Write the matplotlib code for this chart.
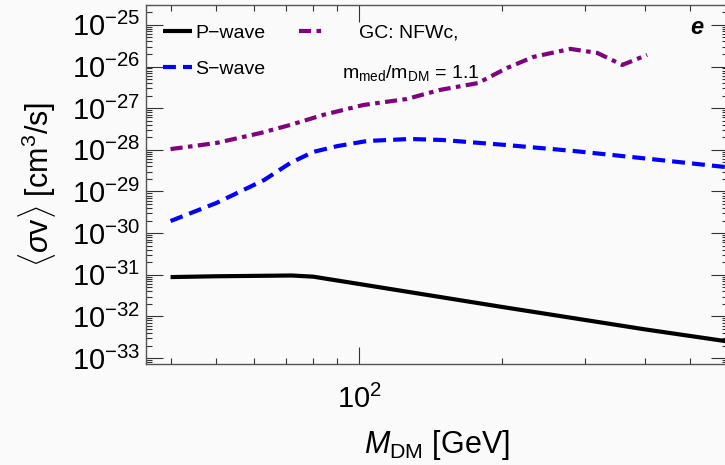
import numpy as np
import matplotlib
matplotlib.use("Agg")
import matplotlib.pyplot as plt
from matplotlib.ticker import LogLocator, FixedLocator, NullFormatter

plt.rcParams['font.family'] = ['Liberation Sans', 'DejaVu Sans']
plt.rcParams['mathtext.fontset'] = 'custom'
plt.rcParams['mathtext.rm'] = 'Liberation Sans'
plt.rcParams['mathtext.it'] = 'Liberation Sans:italic'
plt.rcParams['mathtext.bf'] = 'Liberation Sans:bold'

# dark matter mass [GeV]
m_p = [40, 50, 60, 72, 80, 100, 200, 300, 400, 600]
sv_p = [8.8e-32, 9.2e-32, 9.4e-32, 9.6e-32, 9.0e-32, 6.0e-32, 1.69e-32, 8.2e-33, 4.9e-33, 2.5e-33]

m_s = [40, 50, 63, 71.5, 80, 90, 104, 128, 150, 205, 283, 391, 564, 600]
sv_s = [1.95e-30, 5.3e-30, 1.88e-29, 4.8e-29, 8.9e-29, 1.23e-28, 1.63e-28, 1.82e-28,
        1.72e-28, 1.30e-28, 9.4e-29, 6.4e-29, 4.1e-29, 3.8e-29]

m_gc = [40, 50, 62, 71.5, 84, 102, 126, 148, 178, 205, 233, 279, 318, 359, 405]
sv_gc = [1.04e-28, 1.46e-28, 2.54e-28, 3.95e-28, 6.9e-28, 1.19e-27, 1.66e-27, 2.74e-27,
         4.0e-27, 9.2e-27, 1.70e-26, 2.65e-26, 2.12e-26, 1.09e-26, 1.9e-26]

y_major = [1e-33, 1e-32, 1e-31, 1e-30, 1e-29, 1e-28, 1e-27, 1e-26, 1e-25]
x_major = [100]

bg = '#fafafa'
fig = plt.figure(figsize=(7.25, 4.65), dpi=100, facecolor=bg)
ax = fig.add_axes([146/725, 1 - 364/465, 582/725, 359/465], facecolor=bg)

p_line, = ax.plot(m_p, sv_p, color='black', lw=3, solid_capstyle='butt')
s_line, = ax.plot(m_s, sv_s, color='#0000ff', lw=3, dashes=(3.1, 1.7))
gc_line, = ax.plot(m_gc, sv_gc, color='#800080', lw=3, dashes=(2.9, 1.3, 1.1, 1.3))

ax.set_xscale('log')
ax.set_yscale('log')
ax.set_xlim(35.5, 600)
ax.set_ylim(7.2e-34, 3.0e-25)

ax.yaxis.set_major_locator(FixedLocator(y_major))
ax.xaxis.set_major_locator(FixedLocator(x_major))
ax.yaxis.set_minor_locator(LogLocator(base=10, subs=np.arange(2, 10), numticks=100))
ax.yaxis.set_minor_formatter(NullFormatter())
ax.xaxis.set_minor_formatter(NullFormatter())

for s in ax.spines.values():
    s.set_color('#555555')
    s.set_linewidth(1)
ax.tick_params(which='both', direction='in', top=True, right=True, color='#333333', width=0.8)
ax.tick_params(which='major', length=12.5, labelsize=21)
ax.tick_params(axis='y', which='major', pad=4)
ax.tick_params(axis='x', which='major', pad=15)
ax.tick_params(which='minor', length=4)

ax.set_xlabel(r'$M_{\mathrm{DM}}$ [GeV]', fontsize=22, labelpad=10)
ax.set_ylabel(r'$\langle\sigma\mathrm{v}\rangle$ [cm$^3$/s]', fontsize=22, labelpad=10)

leg1 = ax.legend([p_line, s_line], ['P\u2212wave', 'S\u2212wave'], loc='upper left',
                 bbox_to_anchor=(0.029, 0.947), frameon=False, fontsize=14,
                 handlelength=1.5, handletextpad=0.15, labelspacing=0.95,
                 borderpad=0, borderaxespad=0)
ax.add_artist(leg1)
ax.legend([gc_line], ['GC: NFWc,'], loc='upper left', bbox_to_anchor=(0.263, 0.947),
          frameon=False, fontsize=14, handlelength=1.2, handletextpad=1.9,
          borderpad=0, borderaxespad=0)
ax.text(0.455, 0.811, r'm$_{\mathrm{med}}$/m$_{\mathrm{DM}}$ = 1.1', transform=ax.transAxes,
        ha='center', va='center', fontsize=14)

ax.text(0.947, 0.936, 'e', transform=ax.transAxes, ha='center', va='center',
        fontsize=17, fontweight='bold', fontstyle='italic')

fig.savefig('out.png', dpi=100, facecolor=bg)
